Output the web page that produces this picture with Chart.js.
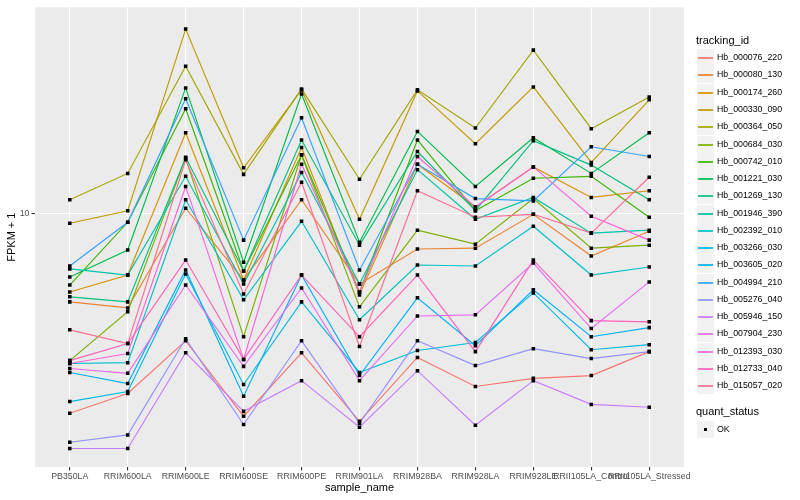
<!DOCTYPE html>
<html>
<head>
<meta charset="utf-8">
<script src="https://cdn.jsdelivr.net/npm/chart.js@4.4.1/dist/chart.umd.min.js"></script>
<style>
  body { margin: 0; background: #fff; font-family: "Liberation Sans", Arial, sans-serif; }
  #wrap { position: relative; width: 800px; height: 500px; }
  #legend { position: absolute; left: 0; top: 0; width: 800px; height: 500px; pointer-events: none; }
  .ltitle { position: absolute; left: 696px; font-size: 11px; color: #000; line-height: 13px; }
  .key { position: absolute; left: 697px; width: 17px; height: 17px; background: #F2F2F2; }
  .key span { position: absolute; left: 1px; right: 1px; top: 8px; height: 2px; opacity: 0.85; }
  .key b { position: absolute; left: 7px; top: 7px; width: 3px; height: 3px; background: #000; }
  .ltext { position: absolute; left: 717px; font-size: 8.8px; color: #000; line-height: 17px; height: 17px; }
</style>
</head>
<body>
<div id="wrap">
  <canvas id="chart" width="800" height="500"></canvas>
  <div id="legend"></div>
</div>
<script>
const categories = ["PB350LA", "RRIM600LA", "RRIM600LE", "RRIM600SE", "RRIM600PE", "RRIM901LA",
  "RRIM928BA", "RRIM928LA", "RRIM928LE", "RRII105LA_Control", "RRII105LA_Stressed"];

const trackingIds = ["Hb_000076_220", "Hb_000080_130", "Hb_000174_260", "Hb_000330_090", "Hb_000364_050",
  "Hb_000684_030", "Hb_000742_010", "Hb_001221_030", "Hb_001269_130", "Hb_001946_390",
  "Hb_002392_010", "Hb_003266_030", "Hb_003605_020", "Hb_004994_210", "Hb_005276_040",
  "Hb_005946_150", "Hb_007904_230", "Hb_012393_030", "Hb_012733_040", "Hb_015057_020"];

const lineColors = ["#F8766D", "#EA8331", "#D89000", "#C09B00", "#A3A500", "#7CAE00", "#39B600", "#00BB4E",
  "#00BF7D", "#00C1A3", "#00BFC4", "#00BAE0", "#00B0F6", "#35A2FF", "#9590FF", "#C77CFF",
  "#E76BF3", "#FA62DB", "#FF62BC", "#FF6C91"];

// FPKM + 1, one value per sample, same order as categories
const hb_000076_220 = [2.14, 2.49, 3.74, 2.09, 3.41, 2.01, 3.29, 2.63, 2.80, 2.86, 3.44];
const hb_000080_130 = [5.05, 4.82, 10.4, 5.98, 11.1, 5.80, 7.59, 7.64, 9.92, 7.19, 8.71];
const hb_000174_260 = [5.45, 6.21, 18.6, 5.98, 16.6, 5.33, 14.6, 10.5, 14.3, 11.3, 11.9];
const hb_000330_090 = [9.26, 10.2, 41.4, 14.2, 25.9, 9.55, 25.7, 17.1, 26.5, 14.8, 24.0];
const hb_000364_050 = [11.1, 13.6, 31.1, 13.5, 26.1, 13.0, 25.9, 19.3, 35.2, 19.2, 24.5];
const hb_000684_030 = [3.21, 4.68, 15.3, 3.86, 15.7, 4.86, 8.78, 7.88, 11.2, 7.64, 7.82];
const hb_000742_010 = [5.75, 9.33, 22.4, 6.41, 15.7, 5.45, 17.6, 10.2, 13.1, 13.3, 9.70];
const hb_001221_030 = [6.12, 7.53, 26.3, 6.86, 25.1, 8.00, 18.8, 12.3, 17.9, 13.6, 18.6];
const hb_001269_130 = [5.25, 5.05, 15.4, 6.41, 17.6, 7.82, 16.1, 10.2, 17.5, 14.5, 11.1];
const hb_001946_390 = [6.51, 6.21, 13.3, 5.80, 13.7, 5.80, 14.0, 9.55, 11.3, 8.58, 8.78];
const hb_002392_010 = [3.14, 3.16, 11.1, 5.13, 9.40, 4.40, 6.71, 6.66, 9.05, 6.21, 6.61];
const hb_003266_030 = [2.34, 2.53, 6.26, 2.67, 5.05, 2.93, 3.47, 3.69, 5.41, 3.49, 3.63];
const hb_003605_020 = [2.93, 2.69, 6.46, 2.44, 6.21, 2.86, 5.21, 3.60, 5.54, 3.86, 4.14];
const hb_004994_210 = [6.66, 9.33, 24.2, 8.13, 20.9, 6.46, 14.6, 11.2, 11.0, 16.7, 15.5];
const hb_005276_040 = [1.71, 1.81, 3.80, 1.96, 3.74, 1.98, 3.74, 3.09, 3.52, 3.26, 3.44];
const hb_005946_150 = [1.63, 1.63, 3.41, 2.17, 2.75, 1.92, 2.97, 1.95, 2.75, 2.29, 2.24];
const hb_007904_230 = [3.02, 2.91, 5.75, 3.07, 5.62, 2.75, 4.53, 4.57, 6.81, 4.11, 5.89];
const hb_012393_030 = [3.14, 3.39, 12.3, 3.24, 14.6, 5.45, 15.5, 10.5, 14.3, 9.77, 8.13];
const hb_012733_040 = [3.21, 3.66, 6.97, 3.24, 6.21, 3.86, 6.21, 3.44, 6.97, 4.37, 4.33];
const hb_015057_020 = [4.07, 3.66, 15.1, 5.37, 12.7, 3.58, 11.9, 9.70, 9.92, 8.58, 13.2];

const seriesValues = [hb_000076_220, hb_000080_130, hb_000174_260, hb_000330_090, hb_000364_050,
  hb_000684_030, hb_000742_010, hb_001221_030, hb_001269_130, hb_001946_390,
  hb_002392_010, hb_003266_030, hb_003605_020, hb_004994_210, hb_005276_040,
  hb_005946_150, hb_007904_230, hb_012393_030, hb_012733_040, hb_015057_020];

const yTicks = [10];
const quantStatus = ["OK"];

const FONT = "'Liberation Sans', Arial, sans-serif";

// lines first, all the points on top (like geom_line + geom_point)
const datasets = trackingIds.map((id, i) => ({
  label: id,
  data: seriesValues[i].map((v, j) => ({ x: j, y: v })),
  borderColor: lineColors[i],
  borderWidth: 1.15,
  pointRadius: 0,
  fill: false,
  tension: 0,
  order: trackingIds.length - i
}));

const okPoints = [];
seriesValues.forEach(vals => vals.forEach((v, j) => okPoints.push({ x: j, y: v })));
datasets.push({
  label: quantStatus[0],
  data: okPoints,
  showLine: false,
  pointStyle: 'rect',
  pointRadius: 2.5,
  pointBackgroundColor: '#000',
  pointBorderWidth: 0,
  order: 0
});

const panelBg = {
  id: 'panelBg',
  beforeDraw(chart) {
    const { ctx, chartArea: a } = chart;
    ctx.save();
    ctx.fillStyle = '#EBEBEB';
    ctx.fillRect(a.left, a.top, a.right - a.left, a.bottom - a.top);
    ctx.restore();
  }
};

new Chart(document.getElementById('chart'), {
  type: 'line',
  data: { datasets: datasets },
  plugins: [panelBg],
  options: {
    responsive: false,
    animation: false,
    layout: { padding: { left: 0, top: 5, right: 116, bottom: 0 } },
    plugins: { legend: { display: false }, tooltip: { enabled: false } },
    scales: {
      x: {
        type: 'linear',
        min: -0.6,
        max: 10.6,
        afterBuildTicks: s => { s.ticks = categories.map((c, i) => ({ value: i })); },
        afterFit: s => { s.height = 33; },
        grid: { color: '#FFFFFF', lineWidth: 1.1, tickColor: '#333333', tickLength: 3.5 },
        border: { display: false },
        ticks: {
          autoSkip: false, maxRotation: 0, minRotation: 0, padding: 1,
          color: '#4D4D4D', font: { size: 8.8, family: FONT },
          callback: v => categories[v]
        },
        title: { display: true, text: 'sample_name', color: '#000', font: { size: 11, family: FONT },
          padding: { top: 0, bottom: 5 } }
      },
      y: {
        type: 'logarithmic',
        min: 1.413,
        max: 48.98,
        afterBuildTicks: s => { s.ticks = yTicks.map(v => ({ value: v })); },
        afterFit: s => { s.width = 35; },
        grid: { color: '#FFFFFF', lineWidth: 1.1, tickColor: '#333333', tickLength: 3.5 },
        border: { display: false },
        ticks: { padding: 2, color: '#4D4D4D', font: { size: 8.8, family: FONT }, callback: v => String(v) },
        title: { display: true, text: 'FPKM + 1', color: '#000', font: { size: 11, family: FONT },
          padding: { top: 5, bottom: 0 } }
      }
    }
  }
});

// ggplot style legend on the right
const legendEl = document.getElementById('legend');
function addEl(cls, top, html) {
  const d = document.createElement('div');
  d.className = cls;
  d.style.top = top + 'px';
  d.innerHTML = html;
  legendEl.appendChild(d);
  return d;
}
addEl('ltitle', 34, 'tracking_id');
trackingIds.forEach((id, i) => {
  const top = Math.round(49.2 + i * 17.26);
  const k = addEl('key', top, '<span></span>');
  k.firstChild.style.background = lineColors[i];
  addEl('ltext', top, id);
});
addEl('ltitle', 405, 'quant_status');
quantStatus.forEach((s, i) => {
  const top = Math.round(420.5 + i * 17.26);
  addEl('key', top, '<b></b>');
  addEl('ltext', top, s);
});
</script>
</body>
</html>
